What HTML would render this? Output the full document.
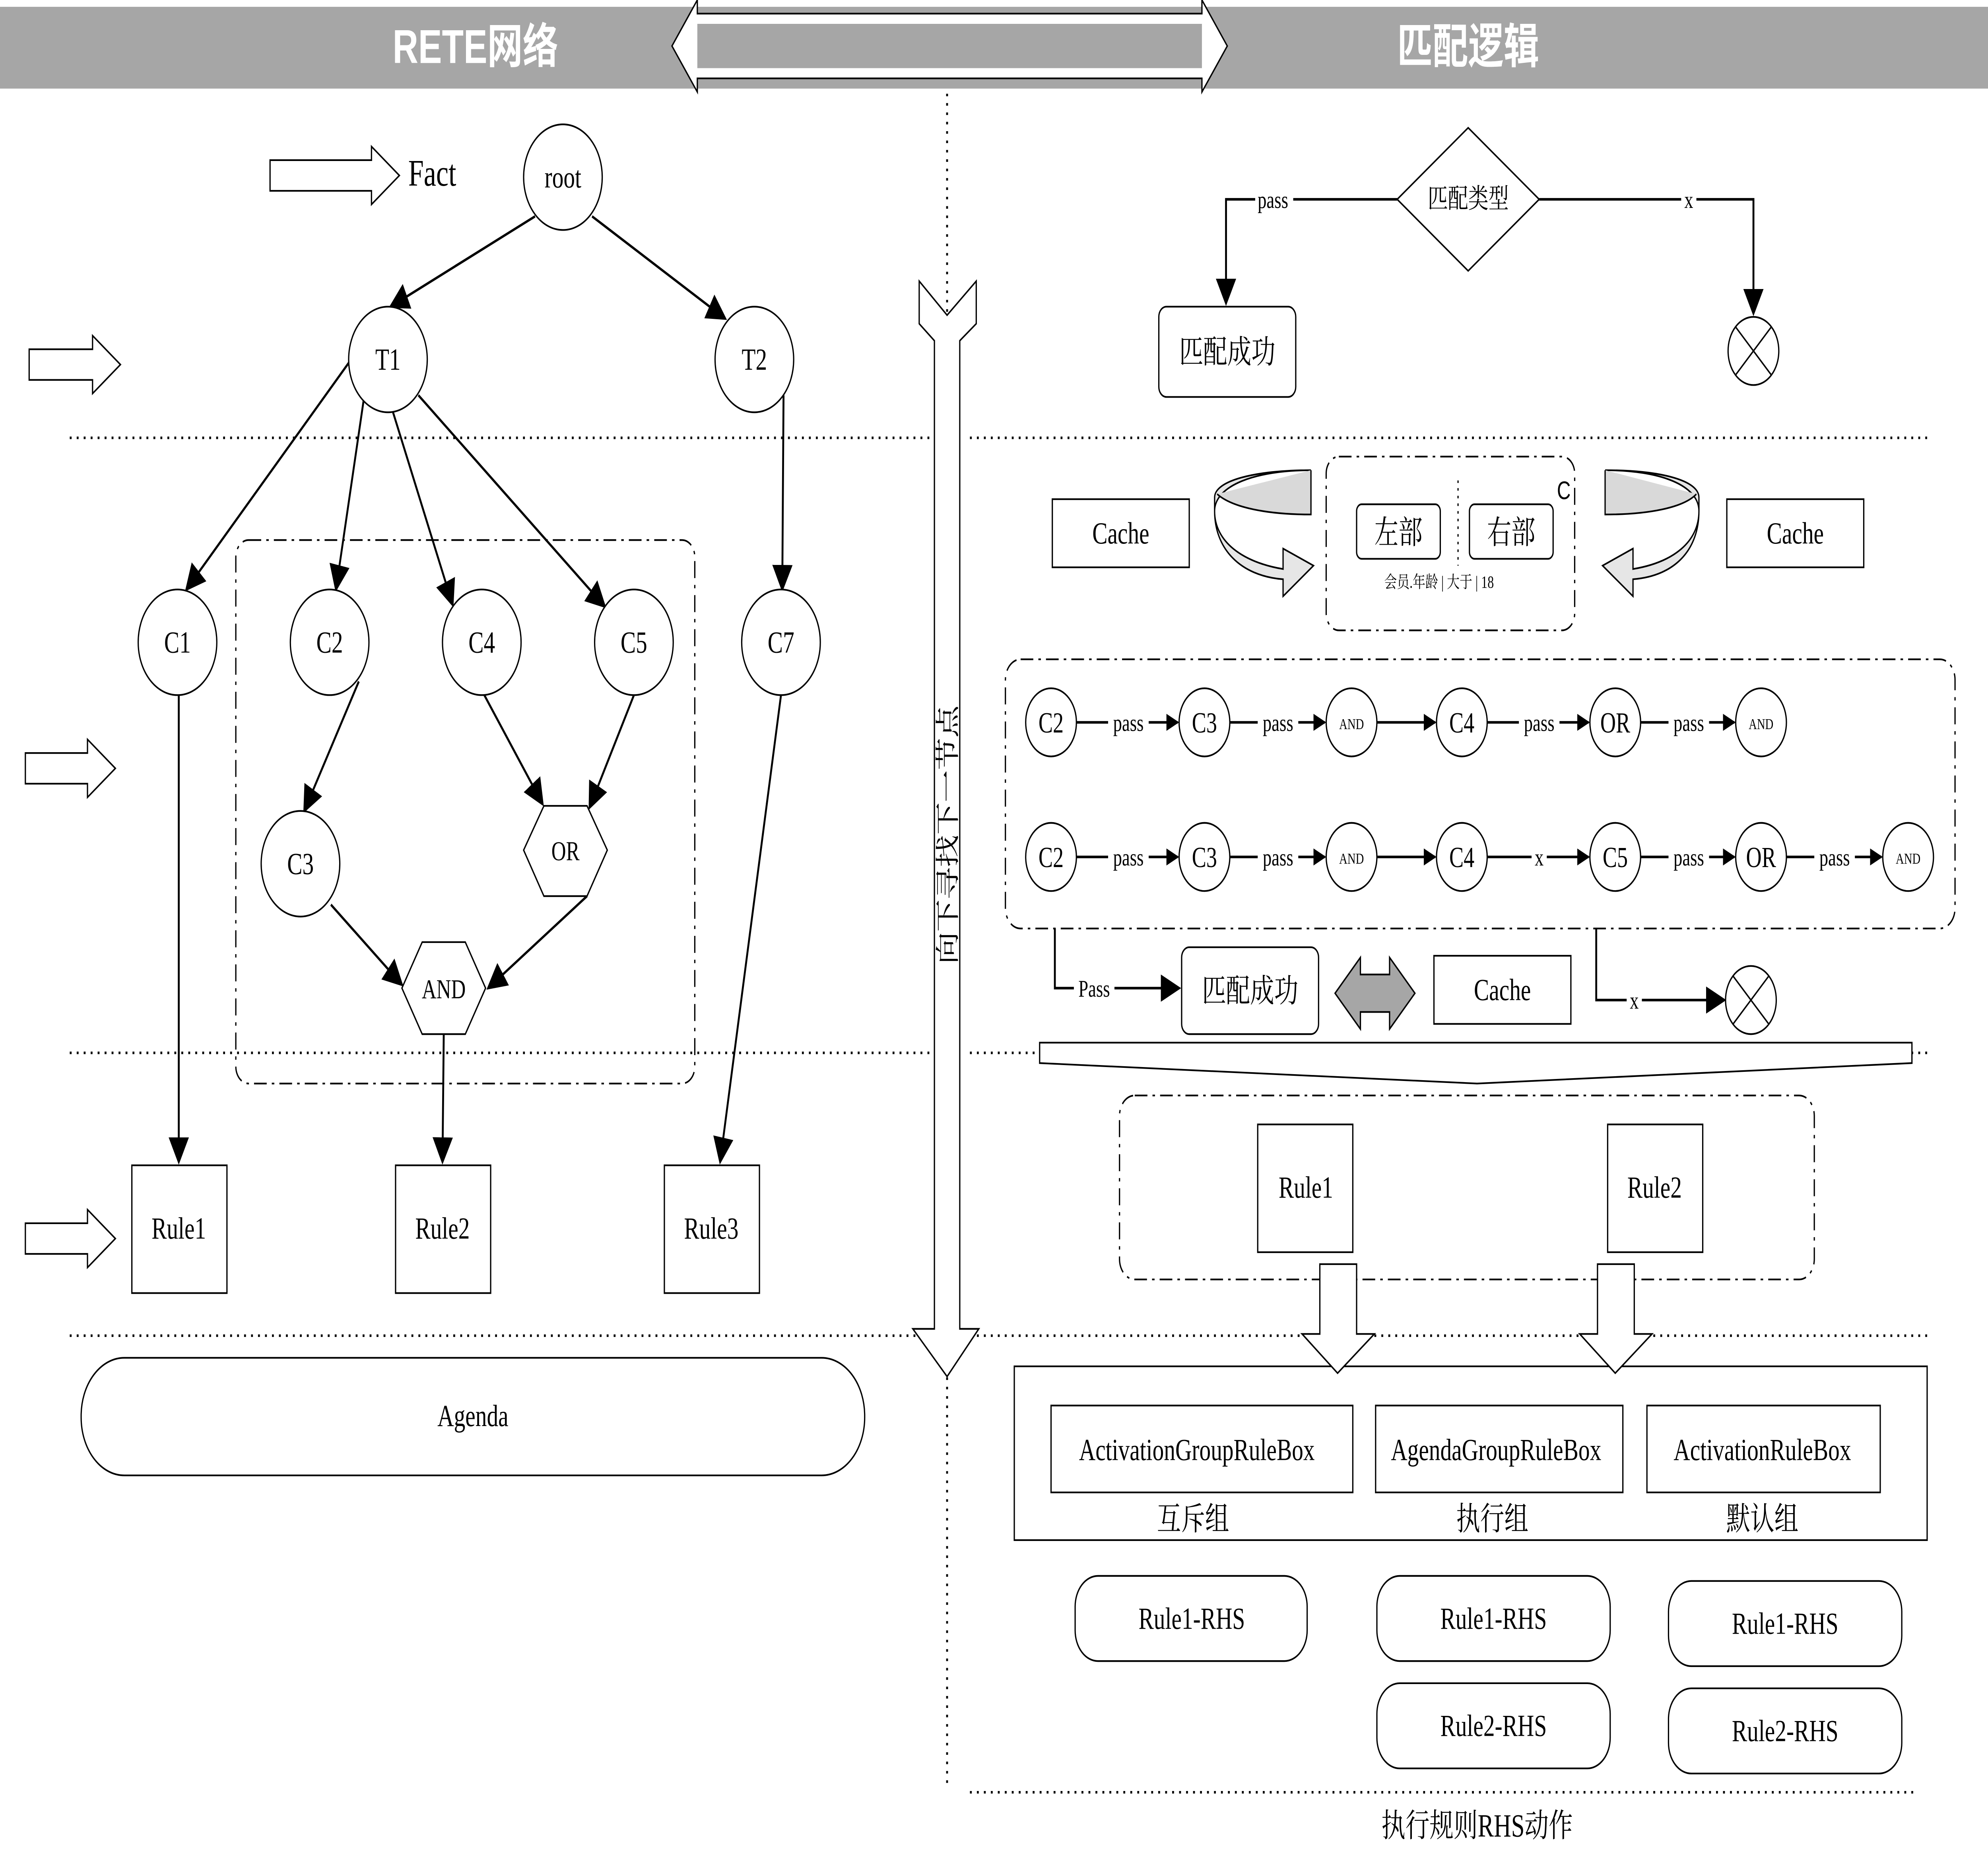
<!DOCTYPE html>
<html><head><meta charset="utf-8"><style>html,body{margin:0;padding:0;background:#fff;overflow:hidden;width:100vw;height:100vh}svg{display:block;width:100vw;height:100vh}</style></head><body>
<svg xmlns="http://www.w3.org/2000/svg" viewBox="0 0 1568 1090" preserveAspectRatio="none" font-family="'Liberation Serif','Noto Serif CJK SC',serif" font-size="18">
<defs>
<marker id="ah" markerWidth="10" markerHeight="10" refX="9" refY="5" orient="auto" markerUnits="userSpaceOnUse"><path d="M0,0 L10,5 L0,10 z" fill="#000"/></marker>
<marker id="ab" viewBox="0 0 10 10" markerWidth="16" markerHeight="16" refX="9" refY="5" orient="auto" markerUnits="userSpaceOnUse"><path d="M0,0 L10,5 L0,10 z" fill="#000"/></marker>
</defs>
<rect width="1568" height="1090" fill="#fff"/>
<rect x="0" y="4" width="1568" height="48" fill="#a6a6a6"/>
<path d="M530,27 L550,0 L550,8 L948,8 L948,0 L968,27 L948,54 L948,46 L550,46 L550,54 Z" fill="#fff" stroke="#000"/>
<rect x="550" y="14" width="398" height="26" fill="#a6a6a6"/>
<text x="375" y="37" fill="#fff" font-size="28" font-weight="bold" text-anchor="middle" font-family="'Liberation Sans','Noto Sans CJK SC',sans-serif">RETE网络</text>
<text x="1158" y="37" fill="#fff" font-size="28" font-weight="bold" text-anchor="middle" font-family="'Liberation Sans','Noto Sans CJK SC',sans-serif">匹配逻辑</text>
<g stroke="#000" stroke-width="1.5" stroke-dasharray="1.5,4" fill="none">
<line x1="747" y1="55" x2="747" y2="1050"/>
<line x1="55" y1="257" x2="740" y2="257"/><line x1="765" y1="257" x2="1520" y2="257"/>
<line x1="55" y1="618" x2="740" y2="618"/><line x1="765" y1="618" x2="1520" y2="618"/>
<line x1="55" y1="784" x2="740" y2="784"/><line x1="765" y1="784" x2="1520" y2="784"/>
<line x1="765" y1="1052" x2="1510" y2="1052"/>
</g>
<g fill="#fff" stroke="#000">
<path d="M213,94 L293,94 L293,86 L315,103 L293,120 L293,112 L213,112 Z"/>
<path d="M23,205 L73,205 L73,197 L95,214 L73,231 L73,223 L23,223 Z"/>
<path d="M20,442 L69,442 L69,434 L91,451 L69,468 L69,460 L20,460 Z"/>
<path d="M20,718 L69,718 L69,710 L91,727 L69,744 L69,736 L20,736 Z"/>
</g>
<text x="322" y="109" font-size="22">Fact</text>
<rect x="186" y="317" width="362" height="319" rx="10" fill="none" stroke="#000" stroke-dasharray="10,4,2,4"/>
<g stroke="#000" stroke-width="1.5" marker-end="url(#ab)">
<line x1="422" y1="127" x2="308" y2="180"/>
<line x1="467" y1="127" x2="572" y2="187"/>
<line x1="276" y1="212" x2="147" y2="346"/>
<line x1="287" y1="234" x2="265" y2="346"/>
<line x1="310" y1="242" x2="357" y2="355"/>
<line x1="330" y1="232" x2="477" y2="356"/>
<line x1="618" y1="232" x2="617" y2="346"/>
<line x1="141" y1="408" x2="141" y2="682"/>
<line x1="283" y1="400" x2="240" y2="476"/>
<line x1="382" y1="408" x2="428" y2="472"/>
<line x1="500" y1="408" x2="465" y2="474"/>
<line x1="261" y1="531" x2="317" y2="578"/>
<line x1="463" y1="526" x2="385" y2="580"/>
<line x1="350" y1="607" x2="349" y2="682"/>
<line x1="616" y1="408" x2="568" y2="682"/>
</g>
<g fill="#fff" stroke="#000">
<circle cx="444" cy="104" r="31"/><circle cx="306" cy="211" r="31"/><circle cx="595" cy="211" r="31"/>
<circle cx="140" cy="377" r="31"/><circle cx="260" cy="377" r="31"/><circle cx="380" cy="377" r="31"/>
<circle cx="500" cy="377" r="31"/><circle cx="616" cy="377" r="31"/><circle cx="237" cy="507" r="31"/>
<path d="M413,499 L429,473 L463,473 L479,499 L463,526 L429,526 Z"/>
<path d="M317,580 L333,553 L367,553 L383,580 L367,607 L333,607 Z"/>
<rect x="104" y="684" width="75" height="75"/><rect x="312" y="684" width="75" height="75"/><rect x="524" y="684" width="75" height="75"/>
<rect x="64" y="797" width="618" height="69" rx="34"/>
</g>
<g text-anchor="middle">
<text x="444" y="110">root</text><text x="306" y="217">T1</text><text x="595" y="217">T2</text>
<text x="140" y="383">C1</text><text x="260" y="383">C2</text><text x="380" y="383">C4</text>
<text x="500" y="383">C5</text><text x="616" y="383">C7</text><text x="237" y="513">C3</text>
<text x="446" y="505" font-size="16">OR</text><text x="350" y="586" font-size="16">AND</text>
<text x="141" y="727">Rule1</text><text x="349" y="727">Rule2</text><text x="561" y="727">Rule3</text>
<text x="373" y="837">Agenda</text>
</g>
<path d="M725,165 L747,185 L770,165 L770,190 L757,200 L757,780 L772,780 L747,808 L720,780 L737,780 L737,200 L725,190 Z" fill="#fff" stroke="#000"/>
<text transform="translate(754,490) rotate(-90)" text-anchor="middle" font-size="19">向下寻找下一节点</text>
<path d="M1158,75 L1214,117 L1158,159 L1102,117 Z" fill="#fff" stroke="#000"/>
<text x="1158" y="122" text-anchor="middle" font-size="16">匹配类型</text>
<g stroke="#000" stroke-width="1.5" fill="none">
<path d="M1102,117 L967,117 L967,178" marker-end="url(#ab)"/>
<path d="M1214,117 L1383,117 L1383,184" marker-end="url(#ab)"/>
</g>
<rect x="990" y="109" width="30" height="16" fill="#fff"/><text x="1004" y="122" text-anchor="middle" font-size="14">pass</text>
<rect x="1326" y="109" width="12" height="16" fill="#fff"/><text x="1332" y="122" text-anchor="middle" font-size="14">x</text>
<rect x="914" y="180" width="108" height="53" rx="6" fill="#fff" stroke="#000"/>
<text x="968" y="213" text-anchor="middle" font-size="19">匹配成功</text>
<g stroke="#000" fill="#fff"><circle cx="1383" cy="206" r="20"/><line x1="1369" y1="192" x2="1397" y2="220"/><line x1="1397" y1="192" x2="1369" y2="220"/></g>
<g fill="#fff" stroke="#000">
<rect x="830" y="293" width="108" height="40"/><rect x="1362" y="293" width="108" height="40"/>
</g>
<text x="884" y="319" text-anchor="middle">Cache</text><text x="1416" y="319" text-anchor="middle">Cache</text>
<path d="M1034,276 C990,276 958,285 958,300 C958,318 980,330 1012,334 L1012,322 L1036,332 L1012,350 L1012,340 C978,338 958,322 958,300 L958,292 C958,282 990,276 1034,276 Z" fill="#e6e6e6" stroke="#000"/>
<path d="M1034,276 L1034,302 C1000,302 972,298 960,290" fill="#d9d9d9" stroke="#000"/>
<path d="M1266,276 C1310,276 1340,285 1340,300 C1340,318 1320,330 1288,334 L1288,322 L1264,332 L1288,350 L1288,340 C1322,338 1340,322 1340,300 L1340,292 C1340,282 1310,276 1266,276 Z" fill="#e6e6e6" stroke="#000"/>
<path d="M1266,276 L1266,302 C1300,302 1328,298 1338,290" fill="#d9d9d9" stroke="#000"/>
<rect x="1046" y="268" width="196" height="102" rx="10" fill="none" stroke="#000" stroke-dasharray="10,4,2,4"/>
<rect x="1070" y="296" width="66" height="32" rx="4" fill="#fff" stroke="#000"/><rect x="1159" y="296" width="66" height="32" rx="4" fill="#fff" stroke="#000"/>
<text x="1103" y="319" text-anchor="middle" font-size="19">左部</text><text x="1192" y="319" text-anchor="middle" font-size="19">右部</text>
<line x1="1150" y1="282" x2="1150" y2="332" stroke="#000" stroke-dasharray="1.5,3"/>
<text x="1228" y="293" font-size="15" font-family="'Liberation Sans',sans-serif">C</text>
<text x="1135" y="345" text-anchor="middle" font-size="10">会员.年龄 | 大于 | 18</text>
<rect x="793" y="387" width="749" height="158" rx="12" fill="none" stroke="#000" stroke-dasharray="10,4,2,4"/>
<g stroke="#000" stroke-width="1.5" marker-end="url(#ah)">
<line x1="849" y1="424" x2="929" y2="424"/><line x1="970" y1="424" x2="1045" y2="424"/><line x1="1086" y1="424" x2="1132" y2="424"/>
<line x1="1173" y1="424" x2="1253" y2="424"/><line x1="1294" y1="424" x2="1368" y2="424"/>
<line x1="849" y1="503" x2="929" y2="503"/><line x1="970" y1="503" x2="1045" y2="503"/><line x1="1086" y1="503" x2="1132" y2="503"/>
<line x1="1173" y1="503" x2="1253" y2="503"/><line x1="1294" y1="503" x2="1368" y2="503"/><line x1="1409" y1="503" x2="1484" y2="503"/>
</g>
<g fill="#fff" stroke="#000">
<circle cx="829" cy="424" r="20"/><circle cx="950" cy="424" r="20"/><circle cx="1066" cy="424" r="20"/><circle cx="1153" cy="424" r="20"/><circle cx="1274" cy="424" r="20"/><circle cx="1389" cy="424" r="20"/>
<circle cx="829" cy="503" r="20"/><circle cx="950" cy="503" r="20"/><circle cx="1066" cy="503" r="20"/><circle cx="1153" cy="503" r="20"/><circle cx="1274" cy="503" r="20"/><circle cx="1389" cy="503" r="20"/><circle cx="1505" cy="503" r="20"/>
</g>
<g text-anchor="middle" font-size="17">
<text x="829" y="430">C2</text><text x="950" y="430">C3</text><text x="1066" y="428" font-size="9">AND</text><text x="1153" y="430">C4</text><text x="1274" y="430">OR</text><text x="1389" y="428" font-size="9">AND</text>
<text x="829" y="509">C2</text><text x="950" y="509">C3</text><text x="1066" y="507" font-size="9">AND</text><text x="1153" y="509">C4</text><text x="1274" y="509">C5</text><text x="1389" y="509">OR</text><text x="1505" y="507" font-size="9">AND</text>
</g>
<g text-anchor="middle" font-size="14">
<rect x="874" y="416" width="32" height="16" fill="#fff"/><text x="890" y="429">pass</text>
<rect x="992" y="416" width="32" height="16" fill="#fff"/><text x="1008" y="429">pass</text>
<rect x="1198" y="416" width="32" height="16" fill="#fff"/><text x="1214" y="429">pass</text>
<rect x="1316" y="416" width="32" height="16" fill="#fff"/><text x="1332" y="429">pass</text>
<rect x="874" y="495" width="32" height="16" fill="#fff"/><text x="890" y="508">pass</text>
<rect x="992" y="495" width="32" height="16" fill="#fff"/><text x="1008" y="508">pass</text>
<rect x="1208" y="495" width="12" height="16" fill="#fff"/><text x="1214" y="508">x</text>
<rect x="1316" y="495" width="32" height="16" fill="#fff"/><text x="1332" y="508">pass</text>
<rect x="1431" y="495" width="32" height="16" fill="#fff"/><text x="1447" y="508">pass</text>
</g>
<g stroke="#000" stroke-width="1.5" fill="none">
<path d="M832,545 L832,580 L930,580" marker-end="url(#ab)"/>
<path d="M1259,545 L1259,587 L1360,587" marker-end="url(#ab)"/>
</g>
<rect x="847" y="572" width="32" height="16" fill="#fff"/><text x="863" y="585" text-anchor="middle" font-size="14">Pass</text>
<rect x="1283" y="579" width="12" height="16" fill="#fff"/><text x="1289" y="592" text-anchor="middle" font-size="14">x</text>
<rect x="932" y="556" width="108" height="51" rx="6" fill="#fff" stroke="#000"/>
<text x="986" y="588" text-anchor="middle" font-size="19">匹配成功</text>
<path d="M1053,583 L1073,562 L1073,572 L1096,572 L1096,562 L1116,583 L1096,604 L1096,594 L1073,594 L1073,604 Z" fill="#a6a6a6" stroke="#000"/>
<rect x="1131" y="561" width="108" height="40" fill="#fff" stroke="#000"/>
<text x="1185" y="587" text-anchor="middle">Cache</text>
<g stroke="#000" fill="#fff"><circle cx="1381" cy="587" r="20"/><line x1="1367" y1="573" x2="1395" y2="601"/><line x1="1395" y1="573" x2="1367" y2="601"/></g>
<path d="M820,612 L1508,612 L1508,624 L1165,636 L820,624 Z" fill="#fff" stroke="#000"/>
<rect x="883" y="643" width="548" height="108" rx="12" fill="none" stroke="#000" stroke-dasharray="10,4,2,4"/>
<rect x="992" y="660" width="75" height="75" fill="#fff" stroke="#000"/><rect x="1268" y="660" width="75" height="75" fill="#fff" stroke="#000"/>
<text x="1030" y="703" text-anchor="middle">Rule1</text><text x="1305" y="703" text-anchor="middle">Rule2</text>
<rect x="800" y="802" width="720" height="102" fill="#fff" stroke="#000"/>
<path d="M1041,742 L1070,742 L1070,783 L1084,783 L1055,806 L1027,783 L1041,783 Z" fill="#fff" stroke="#000"/>
<path d="M1260,742 L1289,742 L1289,783 L1303,783 L1274,806 L1246,783 L1260,783 Z" fill="#fff" stroke="#000"/>
<g fill="#fff" stroke="#000">
<rect x="829" y="825" width="238" height="51"/><rect x="1085" y="825" width="195" height="51"/><rect x="1299" y="825" width="184" height="51"/>
</g>
<g text-anchor="middle" font-size="18">
<text x="944" y="857">ActivationGroupRuleBox</text><text x="1180" y="857">AgendaGroupRuleBox</text><text x="1390" y="857">ActivationRuleBox</text>
<text x="941" y="898" font-size="19">互斥组</text><text x="1177" y="898" font-size="19">执行组</text><text x="1390" y="898" font-size="19">默认组</text>
</g>
<g fill="#fff" stroke="#000">
<rect x="848" y="925" width="183" height="50" rx="18"/>
<rect x="1086" y="925" width="184" height="50" rx="18"/><rect x="1086" y="988" width="184" height="50" rx="18"/>
<rect x="1316" y="928" width="184" height="50" rx="18"/><rect x="1316" y="991" width="184" height="50" rx="18"/>
</g>
<g text-anchor="middle">
<text x="940" y="956">Rule1-RHS</text><text x="1178" y="956">Rule1-RHS</text><text x="1178" y="1019">Rule2-RHS</text>
<text x="1408" y="959">Rule1-RHS</text><text x="1408" y="1022">Rule2-RHS</text>
<text x="1165" y="1078" font-size="19">执行规则RHS动作</text>
</g>
</svg>
</body></html>
